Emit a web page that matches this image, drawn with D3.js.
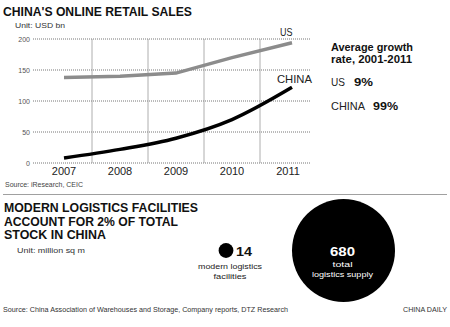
<!DOCTYPE html>
<html>
<head>
<meta charset="utf-8">
<script src="https://cdn.jsdelivr.net/npm/d3@7"></script>
<style>
  html, body { margin: 0; padding: 0; background: #fff; }
  svg { display: block; font-family: "Liberation Sans", Arial, sans-serif; }
</style>
</head>
<body>
<svg id="chart" width="450" height="327"></svg>
<script>
// Online retail sales, USD bn
const years = ["2007", "2008", "2009", "2010", "2011"];
const usSales = [138, 140, 145, 170, 194];
const chinaSales = [8, 22, 40, 70, 122];
const yTicks = [0, 50, 100, 150, 200];

// Average growth rate, 2001-2011
const growthNames = ["US", "CHINA"];
const growthRates = ["9%", "99%"];

// Logistics stock, million sq m
const stockValues = [14, 680];
const stockLabels = [["modern logistics", "facilities"], ["total", "logistics supply"]];

const svg = d3.select("#chart");

// fitted text helper
function label(xp, yp, txt, size, opts = {}) {
  const t = svg.append("text").attr("x", xp).attr("y", yp)
    .attr("font-size", size).attr("fill", opts.fill || "#222").text(txt);
  if (opts.bold) t.attr("font-weight", "bold");
  if (opts.anchor) t.attr("text-anchor", opts.anchor);
  if (opts.len) t.attr("textLength", opts.len).attr("lengthAdjust", "spacingAndGlyphs");
  return t;
}

// ---------- Top chart ----------
label(3, 16, "CHINA'S ONLINE RETAIL SALES", 12.5, { bold: true, fill: "#111", len: 189 });
label(15, 28, "Unit: USD bn", 8, { fill: "#333", len: 50 });

const x = d3.scaleBand().domain(years).range([36, 316]);
const y = d3.scaleLinear().domain([0, 200]).range([163, 39]);

// horizontal dotted grid
const grid = svg.append("g");
grid.selectAll("line.h").data(yTicks).join("line")
  .attr("x1", 33).attr("x2", 311)
  .attr("y1", d => y(d)).attr("y2", d => y(d))
  .attr("stroke", "#666").attr("stroke-width", 0.9).attr("stroke-dasharray", "1,1");
// vertical separators between years
grid.selectAll("line.v").data(years.slice(1)).join("line")
  .attr("x1", d => x(d)).attr("x2", d => x(d))
  .attr("y1", y(200)).attr("y2", y(0))
  .attr("stroke", "#999").attr("stroke-width", 0.8);

// y axis labels
const yAxis = d3.axisLeft(y).tickValues(yTicks).tickSize(0).tickPadding(3);
svg.append("g").attr("transform", "translate(33,0)").call(yAxis)
  .call(g => g.select(".domain").remove())
  .call(g => g.selectAll("text").attr("font-size", 7).attr("fill", "#555")
    .attr("font-family", "Liberation Sans, Arial, sans-serif"));

// x axis labels
const xAxis = d3.axisBottom(x).tickSize(0).tickPadding(4);
svg.append("g").attr("transform", "translate(0,163)").call(xAxis)
  .call(g => g.select(".domain").remove())
  .call(g => g.selectAll("text").attr("font-size", 11).attr("fill", "#222")
    .attr("font-family", "Liberation Sans, Arial, sans-serif"));

const line = d3.line()
  .x((d, i) => x(years[i]) + x.bandwidth() / 2 + (i === years.length - 1 ? 4 : 0))
  .y(d => y(d));

svg.append("path").datum(usSales).attr("d", line.curve(d3.curveLinear))
  .attr("fill", "none").attr("stroke", "#8c8c8c").attr("stroke-width", 3.5);
svg.append("path").datum(chinaSales).attr("d", line.curve(d3.curveMonotoneX))
  .attr("fill", "none").attr("stroke", "#000").attr("stroke-width", 3.5);

label(280, 36, "US", 10.5, { len: 12.5 });
label(277, 83, "CHINA", 10.5, { len: 35 });

// growth-rate panel
label(331, 51, "Average growth", 10, { bold: true, fill: "#111", len: 82 });
label(331, 63, "rate, 2001-2011", 10, { bold: true, fill: "#111", len: 81 });
const rateY = [86, 110];
const rateX = [354, 373];
const rateLen = [19, 25];
const nameLen = [14, 34];
growthNames.forEach((n, i) => {
  label(331, rateY[i], n, 10.5, { len: nameLen[i] });
  label(rateX[i], rateY[i], growthRates[i], 10.5, { bold: true, fill: "#111", len: rateLen[i] });
});

label(5, 187, "Source: iResearch, CEIC", 6.5, { fill: "#444", len: 78 });

svg.append("line").attr("x1", 3).attr("x2", 447).attr("y1", 194.5).attr("y2", 194.5)
  .attr("stroke", "#888").attr("stroke-width", 0.8);

// ---------- Bottom graphic ----------
const title2 = ["MODERN LOGISTICS FACILITIES", "ACCOUNT FOR 2% OF TOTAL", "STOCK IN CHINA"];
const title2Len = [194, 174, 102];
title2.forEach((t, i) => {
  label(4, 212 + i * 13.5, t, 12, { bold: true, fill: "#111", len: title2Len[i] });
});
label(17, 253, "Unit: million sq m", 7.5, { fill: "#333", len: 68 });

const r = d3.scaleSqrt().domain([0, 680]).range([0, 51.5]);
const cy = 250.5;

// small circle
svg.append("circle").attr("cx", 226).attr("cy", cy).attr("r", r(stockValues[0])).attr("fill", "#000");
label(236, 255.5, stockValues[0], 12.5, { bold: true, fill: "#111", len: 16 });
label(230, 269, stockLabels[0][0], 8, { anchor: "middle", len: 64 });
label(230, 279, stockLabels[0][1], 8, { anchor: "middle", len: 33 });

// large circle
svg.append("circle").attr("cx", 343.5).attr("cy", cy).attr("r", r(stockValues[1])).attr("fill", "#000");
label(342.5, 255.5, stockValues[1], 12.5, { bold: true, fill: "#fff", anchor: "middle", len: 25 });
label(342.5, 267, stockLabels[1][0], 8, { fill: "#fff", anchor: "middle", len: 20 });
label(342.5, 277, stockLabels[1][1], 8, { fill: "#fff", anchor: "middle", len: 61 });

label(3, 312, "Source: China Association of Warehouses and Storage, Company reports, DTZ Research", 6.5,
  { fill: "#333", len: 285 });
label(447, 312, "CHINA DAILY", 7, { fill: "#333", anchor: "end", len: 44 });
</script>
</body>
</html>
